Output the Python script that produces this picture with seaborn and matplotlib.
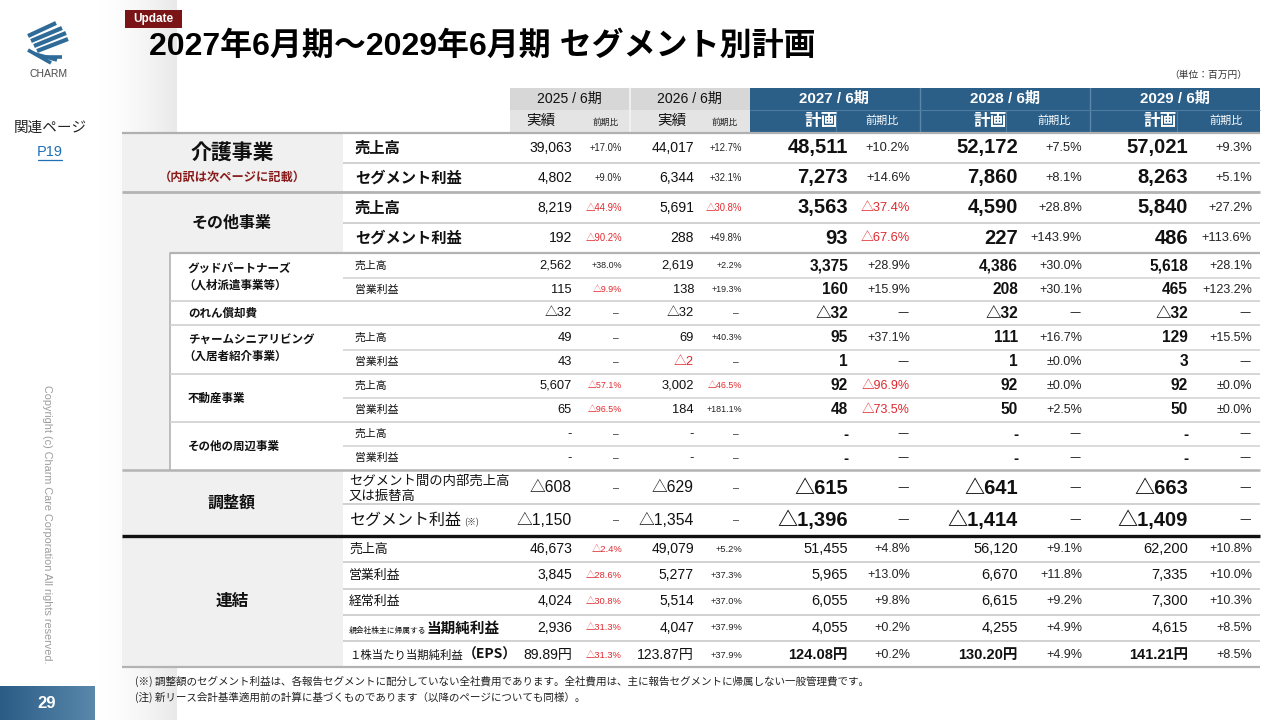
import numpy as np
import pandas as pd
import matplotlib
matplotlib.use("Agg")
import matplotlib.pyplot as plt
from matplotlib import font_manager as fm
from matplotlib.colors import LinearSegmentedColormap
import seaborn as sns

sns.set_theme(style="white")
plt.rcParams['font.family'] = ['Noto Sans CJK JP', 'DejaVu Sans']

# ---------------- data ----------------
title = "2027年6月期～2029年6月期 セグメント別計画"
years = ["2025 / 6期", "2026 / 6期", "2027 / 6期", "2028 / 6期", "2029 / 6期"]
kinds = ["実績", "実績", "計画", "計画", "計画"]

items = ["売上高", "セグメント利益", "売上高", "セグメント利益",
         "売上高", "営業利益", "", "売上高", "営業利益", "売上高", "営業利益", "売上高", "営業利益",
         "セグメント間の内部売上高\n又は振替高", "セグメント利益",
         "売上高", "営業利益", "経常利益", "当期純利益", "１株当たり当期純利益"]

val_2025 = ["39,063", "4,802", "8,219", "192", "2,562", "115", "△32", "49", "43", "5,607", "65", "-", "-",
            "△608", "△1,150", "46,673", "3,845", "4,024", "2,936", "89.89円"]
pct_2025 = ["+17.0%", "+9.0%", "△44.9%", "△90.2%", "+38.0%", "△9.9%", "–", "–", "–", "△57.1%", "△96.5%", "–", "–",
            "–", "–", "△2.4%", "△28.6%", "△30.8%", "△31.3%", "△31.3%"]
val_2026 = ["44,017", "6,344", "5,691", "288", "2,619", "138", "△32", "69", "△2", "3,002", "184", "-", "-",
            "△629", "△1,354", "49,079", "5,277", "5,514", "4,047", "123.87円"]
pct_2026 = ["+12.7%", "+32.1%", "△30.8%", "+49.8%", "+2.2%", "+19.3%", "–", "+40.3%", "–", "△46.5%", "+181.1%", "–", "–",
            "–", "–", "+5.2%", "+37.3%", "+37.0%", "+37.9%", "+37.9%"]
val_2027 = ["48,511", "7,273", "3,563", "93", "3,375", "160", "△32", "95", "1", "92", "48", "-", "-",
            "△615", "△1,396", "51,455", "5,965", "6,055", "4,055", "124.08円"]
pct_2027 = ["+10.2%", "+14.6%", "△37.4%", "△67.6%", "+28.9%", "+15.9%", "—", "+37.1%", "—", "△96.9%", "△73.5%", "—", "—",
            "—", "—", "+4.8%", "+13.0%", "+9.8%", "+0.2%", "+0.2%"]
val_2028 = ["52,172", "7,860", "4,590", "227", "4,386", "208", "△32", "111", "1", "92", "50", "-", "-",
            "△641", "△1,414", "56,120", "6,670", "6,615", "4,255", "130.20円"]
pct_2028 = ["+7.5%", "+8.1%", "+28.8%", "+143.9%", "+30.0%", "+30.1%", "—", "+16.7%", "±0.0%", "±0.0%", "+2.5%", "—", "—",
            "—", "—", "+9.1%", "+11.8%", "+9.2%", "+4.9%", "+4.9%"]
val_2029 = ["57,021", "8,263", "5,840", "486", "5,618", "465", "△32", "129", "3", "92", "50", "-", "-",
            "△663", "△1,409", "62,200", "7,335", "7,300", "4,615", "141.21円"]
pct_2029 = ["+9.3%", "+5.1%", "+27.2%", "+113.6%", "+28.1%", "+123.2%", "—", "+15.5%", "—", "±0.0%", "±0.0%", "—", "—",
            "—", "—", "+10.8%", "+10.0%", "+10.3%", "+8.5%", "+8.5%"]
red_values = [(8, 1)]  # (row, year index) printed in red

vals = [val_2025, val_2026, val_2027, val_2028, val_2029]
pcts = [pct_2025, pct_2026, pct_2027, pct_2028, pct_2029]

# ---------------- layout (pixels) ----------------
row_y = [148, 178, 208, 238, 266, 290, 313, 338, 362, 386, 410, 434, 458, 488, 520, 549, 575, 601, 628, 655]
row_group = ['main'] * 4 + ['sub'] * 9 + ['adj'] * 2 + ['cons'] * 5
num_right = [572, 694, 848, 1018, 1188]
pct_right = [622, 742, 910, 1082, 1252]

avail = {f.name for f in fm.fontManager.ttflist}
NARROW = 'Liberation Sans Narrow' if 'Liberation Sans Narrow' in avail else 'Liberation Sans'
ns = 1.0 if NARROW == 'Liberation Sans Narrow' else 0.84
JP = ['Noto Sans CJK JP', 'DejaVu Sans']
NUM_N = [NARROW, 'Noto Sans CJK JP', 'DejaVu Sans']
NUM_R = ['Liberation Sans', 'Noto Sans CJK JP', 'DejaVu Sans']

sty = {
    'main': dict(act=12 * ns, actp=8.2 * ns, plan=14.5, planw='bold', planp=9.3),
    'sub': dict(act=11 * ns, actp=7.6 * ns, plan=11.2, planw='bold', planp=9),
    'adj': dict(act=13.5 * ns, actp=8 * ns, plan=14.5, planw='bold', planp=9.3),
    'cons': dict(act=12 * ns, actp=8 * ns, plan=10.5, planw='normal', planp=9),
}

RED = '#e0282e'
BLUE = '#2c5f88'
LINE = '#c9c9c9'
GLINE = '#b3b3b3'

fig = plt.figure(figsize=(12.8, 7.2), dpi=100)
ax = fig.add_axes([0, 0, 1, 1])
renderer = fig.canvas.get_renderer()


def T(x, y, s, size, family=JP, ha='left', va='center', weight='normal', color='#111111', **kw):
    return ax.text(x, y, s, fontsize=size, family=family, ha=ha, va=va, fontweight=weight,
                   color=color, **kw)


def W(t):
    return t.get_window_extent(renderer).width


def rect(x0, y0, x1, y1, color, z=1):
    ax.fill_between([x0, x1], [y0, y0], [y1, y1], color=color, lw=0, zorder=z)


def hline(y, x0, x1, color=LINE, lw=1.2, z=3):
    ax.plot([x0, x1], [y, y], color=color, lw=lw, zorder=z, solid_capstyle='butt')


# left shadow band
shade = LinearSegmentedColormap.from_list('sh', ['#ffffff', '#e9e9e9'])
ax.imshow(np.linspace(0, 1, 64)[None, :] ** 1.5, cmap=shade, extent=(98, 177, 720, 0),
          aspect='auto', zorder=0, interpolation='bilinear')
# page number box
pg = LinearSegmentedColormap.from_list('pg', ['#2a5c86', '#5a88ab'])
ax.imshow(np.linspace(0, 1, 64)[None, :], cmap=pg, extent=(0, 95, 720, 686),
          aspect='auto', zorder=1, interpolation='bilinear')
T(47, 703, "29", 12, family=['Liberation Sans', 'DejaVu Sans'], ha='center', weight='bold', color='white', zorder=5)

# logo
up_x0 = [28, 31, 34, 37]
up_y0 = [36, 41, 46, 51]
up_x1 = [56, 62, 66, 68]
up_y1 = [23, 28, 33, 39]
for a, b, c, d in zip(up_x0, up_y0, up_x1, up_y1):
    ax.plot([a, c], [b, d], color='#2f6b98', lw=3.0, solid_capstyle='butt', zorder=2)
lo_x0 = [28, 35, 42]
lo_y0 = [50, 54, 57]
lo_x1 = [51, 57, 62]
lo_y1 = [63, 60, 57]
for a, b, c, d in zip(lo_x0, lo_y0, lo_x1, lo_y1):
    ax.plot([a, c], [b, d], color='#2f6b98', lw=2.6, solid_capstyle='butt', zorder=2)
T(49, 74, "CHARM", 7.5, family=['Liberation Sans', 'DejaVu Sans'], ha='center', color='#4a4a4a')

T(50, 128, "関連ページ", 10.5, ha='center', color='#222222')
T(50, 152, "P19", 10.5, family=['Liberation Sans', 'DejaVu Sans'], ha='center', color='#1f6fb5')
ax.plot([38, 62], [160, 160], color='#1f6fb5', lw=0.9)
T(47, 524, "Copyright (c) Charm Care Corporation All rights reserved.", 7.8,
  family=['Liberation Sans', 'DejaVu Sans'], ha='center', rotation=270, color='#9c9c9c')

# Update badge and title
rect(125, 10, 182, 28, '#7a1416', z=2)
T(153.5, 19, "Update", 8.5, family=['Liberation Sans', 'DejaVu Sans'], ha='center', weight='bold', color='white', zorder=4)
T(149, 47, title, 23, weight='bold', color='#000000',
  family=['Liberation Sans', 'Noto Sans CJK JP', 'DejaVu Sans'])
T(1247, 75, "（単位：百万円）", 7, ha='right', color='#333333')

# ---------------- header ----------------
for j in range(2):
    x0, x1 = 510 + 120 * j, 630 + 120 * j
    rect(x0, 88, x1, 110, '#d7d7d7')
    rect(x0, 110, x1, 133, '#e4e4e4')
ax.plot([630, 630], [88, 133], color='#f4f4f4', lw=1.2, zorder=2)
rect(750, 88, 1260, 133, BLUE)
for xb in [920, 1090]:
    ax.plot([xb, xb], [88, 133], color='#5d87aa', lw=1.0, zorder=2)
hline(110, 750, 1260, color='#4f7ca1', lw=0.8, z=2)
for xb in [836, 1006, 1177]:
    ax.plot([xb, xb], [110, 133], color='#4f7ca1', lw=0.8, zorder=2)

hdr_center = [569, 689, 834, 1005, 1175]
kind_x = [541, 672, 821, 990, 1160]
pctlab_x = [606, 725, 882, 1054, 1226]
for j in range(5):
    if j < 2:
        T(hdr_center[j], 99, years[j], 12 * ns, family=NUM_N, ha='center', color='#111111')
        T(kind_x[j], 121, kinds[j], 10.5, ha='center', color='#111111')
        T(pctlab_x[j], 122, "前期比", 6.3, ha='center', color='#222222')
    else:
        T(hdr_center[j], 99, years[j], 13 * ns, family=NUM_N, ha='center', weight='bold', color='white')
        T(kind_x[j], 121, kinds[j], 12, ha='center', weight='bold', color='white')
        T(pctlab_x[j], 121, "前期比", 8, ha='center', color='white')

# ---------------- body backgrounds ----------------
rect(122, 133, 343, 667, '#f0f0f0')
rect(170, 253, 343, 470, '#ffffff', z=1.5)
ax.plot([170, 170], [253, 470], color=GLINE, lw=1.2, zorder=3)

# horizontal rules
hline(133, 122, 1260, color='#b0b0b0', lw=1.6)
for y in [163, 223]:
    hline(y, 343, 1260)
hline(192, 122, 1260, color=GLINE, lw=2.0)
hline(253, 170, 1260, color=GLINE, lw=1.6)
for y in [278, 350, 398, 446]:
    hline(y, 343, 1260, color='#d6d6d6')
for y in [301, 325, 374, 422]:
    hline(y, 170, 1260, color='#cfcfcf')
hline(470, 122, 1260, color=GLINE, lw=1.8)
hline(504, 343, 1260)
hline(536, 122, 1260, color='#111111', lw=2.4)
for y in [562, 589, 615, 641]:
    hline(y, 343, 1260)
hline(667, 122, 1260, color=GLINE, lw=1.6)

# ---------------- left labels ----------------
T(232, 153, "介護事業", 15, ha='center', weight='bold')
T(232, 177, "（内訳は次ページに記載）", 8.8, ha='center', weight='bold', color='#8a1c1c')
T(232, 223, "その他事業", 11.5, ha='center', weight='bold')
T(188, 268, "グッドパートナーズ", 8.3, weight='bold')
T(183, 285, "（人材派遣事業等）", 8.3, weight='bold')
T(188, 313, "のれん償却費", 8.3, weight='bold')
T(188, 340, "チャームシニアリビング", 8.3, weight='bold')
T(183, 356, "（入居者紹介事業）", 8.3, weight='bold')
T(188, 398, "不動産事業", 8.3, weight='bold')
T(188, 446, "その他の周辺事業", 8.3, weight='bold')
T(232, 503, "調整額", 11.5, ha='center', weight='bold')
T(232, 601, "連結", 12, ha='center', weight='bold')

# item labels
for i, lab in enumerate(items):
    g = row_group[i]
    y = row_y[i]
    if not lab:
        continue
    if g == 'main':
        T(355, y, lab, 11, weight='bold')
    elif g == 'sub':
        T(355, y, lab, 7.8)
    elif g == 'adj':
        if i == 13:
            T(349, y, lab, 9.6, linespacing=1.15)
        else:
            t = T(349, y + 5, lab, 11.5, va='baseline')
            T(349 + W(t) + 3, y + 5, "(※)", 6.5, va='baseline', color='#333333')
    else:
        if i == 18:
            t = T(349, y + 4.5, "親会社株主に帰属する", 5.6, va='baseline')
            T(349 + W(t), y + 4.5, lab, 10.5, va='baseline', weight='bold')
        elif i == 19:
            t = T(349, y + 4, lab, 8.2, va='baseline')
            T(349 + W(t), y + 4, "（EPS）", 10, va='baseline', weight='bold',
              family=['Noto Sans CJK JP', 'DejaVu Sans'])
        else:
            T(349, y, lab, 9.3)

# ---------------- values ----------------
for i in range(len(row_y)):
    g = row_group[i]
    s = sty[g]
    y = row_y[i]
    for j in range(5):
        v = vals[j][i]
        p = pcts[j][i]
        vcol = RED if (i, j) in red_values else '#111111'
        if j < 2:
            T(num_right[j], y, v, s['act'], family=NUM_N, ha='right', color=vcol)
            if p in ('–', '—'):
                T(pct_right[j] - 6, y, p, s['actp'] + 1, family=NUM_N, ha='center', color='#333333')
            else:
                T(pct_right[j], y, p, s['actp'], family=NUM_N, ha='right',
                  color=RED if p.startswith('△') else '#222222')
        else:
            wgt = s['planw']
            if i == 19:
                wgt = 'bold'
            T(num_right[j], y, v, s['plan'], family=NUM_R, ha='right', weight=wgt, color=vcol)
            if p in ('–', '—'):
                T(pct_right[j] - 7, y, p, s['planp'], family=JP, ha='center', color='#333333')
            else:
                T(pct_right[j], y, p, s['planp'], family=NUM_R, ha='right',
                  color=RED if p.startswith('△') else '#222222')

# footnotes
T(135, 681, "(※) 調整額のセグメント利益は、各報告セグメントに配分していない全社費用であります。全社費用は、主に報告セグメントに帰属しない一般管理費です。",
  7.6, color='#222222')
T(135, 697, "(注) 新リース会計基準適用前の計算に基づくものであります（以降のページについても同様）。", 7.6, color='#222222')

ax.set_xlim(0, 1280)
ax.set_ylim(720, 0)
ax.axis('off')
fig.savefig("out.png", dpi=100, facecolor='white')
